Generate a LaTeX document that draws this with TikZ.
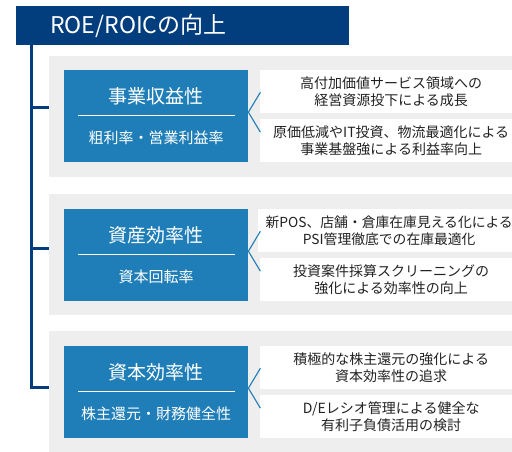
\documentclass[tikz,border=0pt]{standalone}
\usepackage{fontspec}
\setmainfont{Noto Sans CJK JP}
\definecolor{navy}{HTML}{023E7D}
\definecolor{midblue}{HTML}{1F7EB7}
\definecolor{panelgray}{HTML}{EEEEEE}
\definecolor{txtdark}{HTML}{222222}
\tikzset{
  titlebox/.style={fill=navy, text=white, anchor=north west, minimum width=333pt, minimum height=39pt,
    inner xsep=34pt, inner ysep=0pt, text width=265pt, align=left, font=\fontsize{23}{27}\selectfont},
  panel/.style={fill=panelgray, anchor=north west, minimum width=465pt, minimum height=121pt, inner sep=0pt},
  bluebox/.style={fill=midblue, anchor=north west, minimum width=184pt, minimum height=92pt, inner sep=0pt},
  whitebox/.style={fill=white, anchor=north west, minimum width=262pt, minimum height=43pt, inner sep=0pt,
    align=center, text=txtdark, font=\fontsize{14}{17}\selectfont},
  boxtitle/.style={text=white, inner sep=0pt, font=\fontsize{19}{23}\selectfont},
  boxsub/.style={text=white, inner sep=0pt, font=\fontsize{15}{18}\selectfont},
  trunk/.style={draw=navy, line width=3pt},
  chevron/.style={draw=midblue, line width=1.1pt},
  divider/.style={draw=white, line width=1pt}
}
\begin{document}
\begin{tikzpicture}[x=1pt,y=-1pt]
\useasboundingbox (0,0) rectangle (512,451);
% title
\node[titlebox] (title) at (16,6) {ROE/ROICの向上};
% panels
\node[panel] (p1) at (49,56) {};
\node[panel] (p2) at (49,194) {};
\node[panel, minimum height=125pt] (p3) at (49,331) {};
% trunk and branches
\coordinate (tx) at (31.5,0);
\coordinate (j1) at ([yshift=9pt]p1.west);
\coordinate (j2) at ([yshift=6.5pt]p2.west);
\coordinate (j3) at ([yshift=6.5pt]p3.west);
\draw[trunk] (title.south -| tx) |- (j3);
\draw[trunk] (tx |- j1) -- (j1);
\draw[trunk] (tx |- j2) -- (j2);
% blue boxes
\node[bluebox] (b1) at (64,70) {};
\node[bluebox] (b2) at (64,209) {};
\node[bluebox] (b3) at (64,346) {};
\node[boxtitle] (b1t) at ([yshift=-26pt]b1.north) {事業収益性};
\node[boxsub] (b1s) at ([yshift=-68pt]b1.north) {粗利率・営業利益率};
\node[boxtitle] (b2t) at ([yshift=-26pt]b2.north) {資産効率性};
\node[boxsub] (b2s) at ([yshift=-68pt]b2.north) {資本回転率};
\node[boxtitle] (b3t) at ([yshift=-26pt]b3.north) {資本効率性};
\node[boxsub] (b3s) at ([yshift=-68pt]b3.north) {株主還元・財務健全性};
\foreach \b in {b1,b2,b3}{
  \draw[divider] ([xshift=14pt,yshift=-45pt]\b.north west) -- ([xshift=-13pt,yshift=-45pt]\b.north east);
}
% white boxes
\node[whitebox] (w1a) at (260,70) {高付加価値サービス領域への\\経営資源投下による成長};
\node[whitebox] (w1b) at (260,119) {原価低減やIT投資、物流最適化による\\事業基盤強による利益率向上};
\node[whitebox, font=\fontsize{13.8}{17}\selectfont] (w2a) at (258,209) {新POS、店舗・倉庫在庫見える化による\\PSI管理徹底での在庫最適化};
\node[whitebox] (w2b) at (260,258) {投資案件採算スクリーニングの\\強化による効率性の向上};
\node[whitebox] (w3a) at (260,346) {積極的な株主還元の強化による\\資本効率性の追求};
\node[whitebox] (w3b) at (260,395) {D/Eレシオ管理による健全な\\有利子負債活用の検討};
% chevrons
\foreach \b in {b1,b2,b3}{
  \coordinate (\b v) at ([yshift=4pt]\b.east);
  \draw[chevron] ([xshift=12pt,yshift=20pt]\b v) -- (\b v) -- ([xshift=12pt,yshift=-20pt]\b v);
}
\end{tikzpicture}
\end{document}
